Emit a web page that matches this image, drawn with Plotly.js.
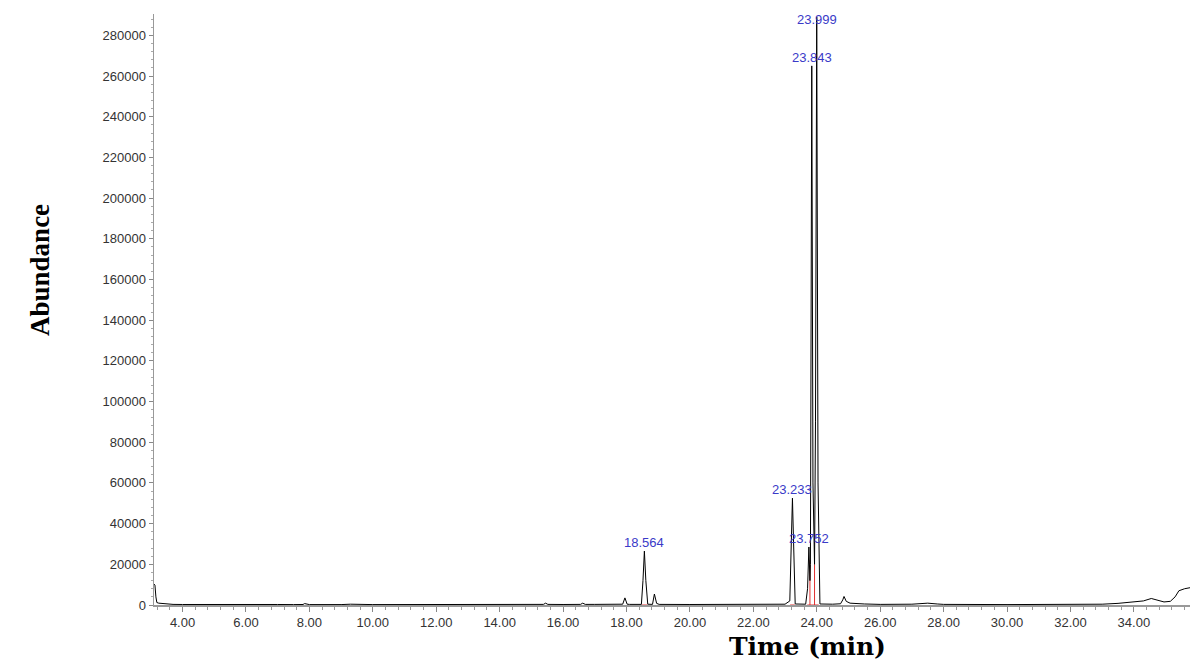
<!DOCTYPE html>
<html><head><meta charset="utf-8">
<script src="https://cdn.plot.ly/plotly-3.0.1.min.js"></script>
<style>html,body{margin:0;padding:0;background:#fff}#chart{width:1190px;height:662px}</style>
</head><body><div id="chart"></div>
<script>
// Chromatogram (time in min, abundance)
const timeMin = [3.10,3.13,3.16,3.19,3.25,3.35,3.50,3.70,4.00,4.50,5.00,5.50,6.00,6.50,7.00,7.50,7.80,7.85,7.92,8.00,9.00,9.30,10.00,11.00,12.00,13.00,14.00,15.00,15.38,15.45,15.52,16.00,16.55,16.62,16.70,17.00,17.50,17.88,17.95,18.02,18.10,18.47,18.52,18.564,18.61,18.67,18.82,18.88,18.95,19.03,20.00,21.00,22.00,23.00,23.15,23.20,23.233,23.27,23.32,23.65,23.71,23.752,23.785,23.80,23.843,23.88,23.93,23.96,23.999,24.04,24.10,24.50,24.75,24.82,24.86,24.93,25.05,25.50,26.00,27.00,27.35,27.50,27.80,28.00,30.00,32.00,33.00,33.50,34.00,34.30,34.55,34.75,34.95,35.15,35.30,35.42,35.50,35.60,35.77];
const abundance = [10300,9800,4000,1200,900,700,500,300,250,300,250,250,200,200,250,200,250,700,300,200,200,400,200,200,200,250,250,250,300,900,300,250,300,900,300,300,350,400,3500,400,300,300,12000,26500,12000,400,300,5400,800,300,250,250,300,400,2000,30000,52500,30000,500,400,8000,28500,12000,20000,265000,60000,20000,90000,289000,60000,500,400,600,2500,4200,1800,900,500,300,400,700,900,500,300,200,300,400,800,1500,2000,3200,2200,1500,1800,4000,7000,7500,8000,8500];

// Integration marks (red)
const redX = [18.48,18.66,null,23.16,23.31,null,23.785,23.785,null,23.93,23.93,null,23.70,24.06];
const redY = [0,0,null,0,0,null,0,22000,null,0,20000,null,0,0];

// Peak labels
const peakTimes  = [18.564, 23.233, 23.752, 23.843, 23.999];
const peakHeights = [26500, 52500, 28500, 265000, 289000];
const peakLabels = ["18.564", "23.233", "23.752", "23.843", "23.999"];

const annotations = peakTimes.map((t,i)=>({
  x:t, y:peakHeights[i], xref:'x', yref:'y', text:peakLabels[i], showarrow:false,
  yanchor: i===4 ? 'middle' : 'bottom', yshift: i===4 ? -2 : -1,
  font:{family:'Liberation Sans, Arial', size:13, color:'#3a3ac8'}
}));
annotations.push({xref:'paper', yref:'paper', x:-0.110, xanchor:'center', y:0.567, yanchor:'middle', text:'<b>Abundance</b>', textangle:-90,
  showarrow:false, font:{family:'Liberation Serif, Times New Roman', size:27, color:'#000'}});
annotations.push({xref:'paper', yref:'paper', x:0.631, xanchor:'center', y:-0.071, yanchor:'middle', text:'<b>Time (min)</b>',
  showarrow:false, font:{family:'DejaVu Serif, Liberation Serif', size:25, color:'#000'}});

const traces = [
  {x:redX, y:redY, type:'scatter', mode:'lines', line:{color:'#e03030', width:1}, hoverinfo:'skip', connectgaps:false},
  {x:timeMin, y:abundance, type:'scatter', mode:'lines', line:{color:'#000', width:1}}
];

const layout = {
  width:1190, height:662, showlegend:false,
  paper_bgcolor:'#fff', plot_bgcolor:'#fff',
  margin:{l:154, r:0, t:14, b:57},
  xaxis:{range:[3.1,35.77], tickvals:[4,6,8,10,12,14,16,18,20,22,24,26,28,30,32,34],
    ticktext:['4.00','6.00','8.00','10.00','12.00','14.00','16.00','18.00','20.00','22.00','24.00','26.00','28.00','30.00','32.00','34.00'],
    ticks:'outside', ticklen:5, tickcolor:'#888', showgrid:false, zeroline:false,
    showline:true, linecolor:'#999', linewidth:1.5,
    minor:{dtick:0.4, tick0:4, ticks:'outside', ticklen:3, tickcolor:'#999'},
    tickfont:{family:'Liberation Sans, Arial', size:13, color:'#333'}},
  yaxis:{range:[0,290500], tickvals:[0,20000,40000,60000,80000,100000,120000,140000,160000,180000,200000,220000,240000,260000,280000],
    ticktext:['0','20000','40000','60000','80000','100000','120000','140000','160000','180000','200000','220000','240000','260000','280000'],
    ticks:'outside', ticklen:4, tickcolor:'#888', showgrid:false, zeroline:false,
    showline:true, linecolor:'#999', linewidth:1.5,
    minor:{dtick:4000, ticks:'outside', ticklen:2, tickcolor:'#aaa'},
    tickfont:{family:'Liberation Sans, Arial', size:13, color:'#333'}},
  annotations:annotations
};
Plotly.newPlot('chart', traces, layout, {displayModeBar:false, staticPlot:true});
</script></body></html>
